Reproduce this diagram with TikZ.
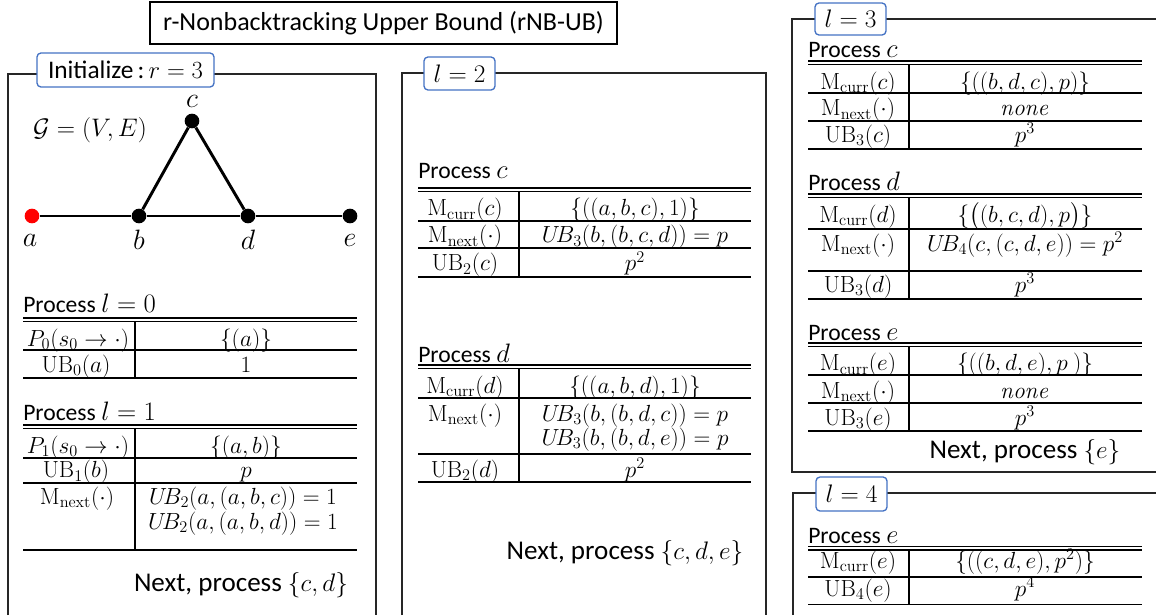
\documentclass[tikz,border=0pt]{standalone}
\usepackage{fix-cm}
\usepackage{amsmath}
\usepackage[no-math]{fontspec}
\setmainfont{Carlito}
\definecolor{labblue}{HTML}{4472C4}
\newcommand\dblrule[3]{\draw[rulex] (#1,#3) -- (#2,#3); \draw[rulex] (#1,#3+3.5) -- (#2,#3+3.5);}
\newcommand\hrulex[3]{\draw[rulex] (#1,#3) -- (#2,#3);}
\newcommand\hm[1]{{\fontsize{20}{22}\selectfont$#1$}}
\newcommand\nm[1]{{\fontsize{19}{22}\selectfont$#1$}}
\begin{document}
\begin{tikzpicture}[x=0.75pt,y=-0.75pt,
  panel/.style={draw=black!85, line width=0.8pt},
  lab/.style={draw=labblue, line width=1pt, rounded corners=3pt, fill=white, inner sep=0pt, font=\fontsize{19}{22}\selectfont},
  titlebox/.style={draw=black, line width=0.8pt, inner sep=0pt, font=\fontsize{19.5}{22}\selectfont},
  rulex/.style={draw=black, line width=0.8pt},
  head/.style={anchor=base west, inner sep=0pt, font=\fontsize{17.7}{20}\selectfont},
  cellL/.style={anchor=base, inner sep=0pt, text height=0.7em, text depth=0.2em, font=\fontsize{17.5}{20}\selectfont},
  cellR/.style={anchor=base, inner sep=0pt, text height=0.7em, text depth=0.2em, font=\fontsize{17.5}{20}\selectfont},
  note/.style={inner sep=0pt, font=\fontsize{20.3}{24}\selectfont},
  vtx/.style={circle, fill=black, inner sep=0pt, minimum size=11pt},
  edgex/.style={line width=2.2pt},
  vlab/.style={font=\fontsize{21}{24}\selectfont, inner sep=0pt},
  glab/.style={font=\fontsize{19}{22}\selectfont, inner sep=0pt}
]
\useasboundingbox (0,0) rectangle (1156,615);
\fill[white] (0,0) rectangle (1156,615);

% title
\node[titlebox, minimum width=350.25pt, minimum height=31.5pt] (title) at (383.5,23) {r-Nonbacktracking Upper Bound (rNB-UB)};

% ---------------- panel 1
\draw[panel] (8,615) -- (8,74) -- (376,74) -- (376,615);
\node[lab, minimum width=132.75pt, minimum height=25.5pt] (lab1) at (125.5,70) {Initialize\,:\,{\fontsize{18.5}{22}\selectfont$r = 3$}};

\node[vtx, fill=red] (a) at (32,216) {};
\node[vtx] (b) at (139,216) {};
\node[vtx] (c) at (192,121) {};
\node[vtx] (d) at (248,216) {};
\node[vtx] (e) at (350,216) {};
\draw[edgex] (a) -- (b);
\draw[edgex] (b) -- (d);
\draw[edgex] (d) -- (e);
\draw[edgex] (b) -- (c);
\draw[edgex] (c) -- (d);
\node[vlab] (la) at (30,240) {$a$};
\node[vlab] (lb) at (139,240) {$b$};
\node[vlab] (lc) at (192,101) {$c$};
\node[vlab] (ld) at (248,240) {$d$};
\node[vlab] (le) at (350,240) {$e$};
\node[glab] (G) at (90,130) {$\mathcal{G} = (V,E)$};

\node[head] (h0) at (23,312) {Process \hm{l = 0}};
\dblrule{23}{357}{318}
\node[cellL] (p0a) at (78,346) {$P_0(s_0 \rightarrow\cdot)$};
\node[cellR] (p0b) at (246,346) {$\{(a)\}$};
\hrulex{23}{357}{350}
\node[cellL] (p0c) at (76,372) {$\mathrm{UB}_0(a)$};
\node[cellR] (p0d) at (246,372) {$1$};
\hrulex{23}{357}{378}
\draw[rulex] (135,321.5) -- (135,378);

\node[head] (h1) at (23,420) {Process \hm{l = 1}};
\dblrule{23}{357}{425}
\node[cellL] (p1a) at (78,453) {$P_1(s_0 \rightarrow\cdot)$};
\node[cellR] (p1b) at (246,453) {$\{(a,b)\}$};
\hrulex{23}{357}{458}
\node[cellL] (p1c) at (76,477.5) {$\mathrm{UB}_1(b)$};
\node[cellR] (p1d) at (246,477.5) {$p$};
\hrulex{23}{357}{483}
\node[cellL] (p1e) at (77,504) {$\mathrm{M}_{\mathrm{next}}(\cdot)$};
\node[cellR] (p1f) at (243,504) {$U\!B_2(a,(a,b,c)) = 1$};
\node[cellR] (p1g) at (243,529) {$U\!B_2(a,(a,b,d)) = 1$};
\hrulex{23}{357}{550}
\draw[rulex] (135,428.5) -- (135,550);
\node[note] (n1) at (241,585) {Next, process \nm{\{c,d\}}};

% ---------------- panel 2
\draw[panel] (402,615) -- (402,73) -- (766,73) -- (766,615);
\node[lab, minimum width=53.25pt, minimum height=24.75pt] (lab2) at (459.5,73.5) {$l = 2$};

\node[head] (h2c) at (418,178) {Process \hm{c}};
\dblrule{418}{751}{188}
\node[cellL] (q1a) at (465,215.5) {$\mathrm{M}_{\mathrm{curr}}(c)$};
\node[cellR] (q1b) at (635,215.5) {$\{((a,b,c),1)\}$};
\hrulex{418}{751}{221}
\node[cellL] (q2a) at (465,242.5) {$\mathrm{M}_{\mathrm{next}}(\cdot)$};
\node[cellR] (q2b) at (635,242.5) {$U\!B_3(b,(b,c,d)) = p$};
\hrulex{418}{751}{248}
\node[cellL] (q3a) at (465,270.5) {$\mathrm{UB}_2(c)$};
\node[cellR] (q3b) at (635,270.5) {$p^2$};
\hrulex{418}{751}{277}
\draw[rulex] (519,191.5) -- (519,277);

\node[head] (h2d) at (418,362) {Process \hm{d}};
\dblrule{418}{751}{365}
\node[cellL] (q4a) at (465,393) {$\mathrm{M}_{\mathrm{curr}}(d)$};
\node[cellR] (q4b) at (635,393) {$\{((a,b,d),1)\}$};
\hrulex{418}{751}{398}
\node[cellL] (q5a) at (465,421) {$\mathrm{M}_{\mathrm{next}}(\cdot)$};
\node[cellR] (q5b) at (635,421) {$U\!B_3(b,(b,d,c)) = p$};
\node[cellR] (q5c) at (635,445) {$U\!B_3(b,(b,d,e)) = p$};
\hrulex{418}{751}{454}
\node[cellL] (q6a) at (465,477) {$\mathrm{UB}_2(d)$};
\node[cellR] (q6b) at (635,477) {$p^2$};
\hrulex{418}{751}{482}
\draw[rulex] (519,368.5) -- (519,482);
\node[note] (n2) at (625,553) {Next, process \nm{\{c,d,e\}}};

% ---------------- panel 3
\draw[panel] (1160,19) -- (792,19) -- (792,472) -- (1160,472);
\node[lab, minimum width=53.25pt, minimum height=24pt] (lab3) at (850.5,19) {$l = 3$};

\node[head] (h3c) at (808,57) {Process \hm{c}};
\dblrule{808}{1142}{61}
\node[cellL] (r1a) at (858,89) {$\mathrm{M}_{\mathrm{curr}}(c)$};
\node[cellR] (r1b) at (1025,89) {$\{((b,d,c),p)\}$};
\hrulex{808}{1142}{93}
\node[cellL] (r2a) at (858,115.5) {$\mathrm{M}_{\mathrm{next}}(\cdot)$};
\node[cellR] (r2b) at (1025,115.5) {$\mathit{none}$};
\hrulex{808}{1142}{121}
\node[cellL] (r3a) at (858,142) {$\mathrm{UB}_3(c)$};
\node[cellR] (r3b) at (1025,142) {$p^3$};
\hrulex{808}{1142}{149}
\draw[rulex] (909,64.5) -- (909,149);

\node[head] (h3d) at (808,190) {Process \hm{d}};
\dblrule{808}{1142}{194}
\node[cellL] (r4a) at (858,222) {$\mathrm{M}_{\mathrm{curr}}(d)$};
\node[cellR] (r4b) at (1025,222) {$\{\big((b,c,d),p\big)\}$};
\hrulex{808}{1142}{229}
\node[cellL] (r5a) at (858,251) {$\mathrm{M}_{\mathrm{next}}(\cdot)$};
\node[cellR] (r5b) at (1025,251) {$U\!B_4(c,(c,d,e)) = p^2$};
\hrulex{808}{1142}{271}
\node[cellL] (r6a) at (858,292) {$\mathrm{UB}_3(d)$};
\node[cellR] (r6b) at (1025,292) {$p^3$};
\hrulex{808}{1142}{299}
\draw[rulex] (909,197.5) -- (909,299);

\node[head] (h3e) at (808,340) {Process \hm{e}};
\dblrule{808}{1142}{343}
\node[cellL] (r7a) at (858,370.5) {$\mathrm{M}_{\mathrm{curr}}(e)$};
\node[cellR] (r7b) at (1025,370.5) {$\{((b,d,e),p\ )\}$};
\hrulex{808}{1142}{375}
\node[cellL] (r8a) at (858,398) {$\mathrm{M}_{\mathrm{next}}(\cdot)$};
\node[cellR] (r8b) at (1025,398) {$\mathit{none}$};
\hrulex{808}{1142}{403}
\node[cellL] (r9a) at (858,425) {$\mathrm{UB}_3(e)$};
\node[cellR] (r9b) at (1025,425) {$p^3$};
\hrulex{808}{1142}{431}
\draw[rulex] (909,346.5) -- (909,431);
\node[note] (n3) at (1025,452) {Next, process \nm{\{e\}}};

% ---------------- panel 4
\draw[panel] (793,615) -- (793,493) -- (1160,493);
\node[lab, minimum width=53.25pt, minimum height=25.5pt] (lab4) at (851.5,494) {$l = 4$};

\node[head] (h4e) at (808,543) {Process \hm{e}};
\dblrule{808}{1142}{546.5}
\node[cellL] (s1a) at (858,568) {$\mathrm{M}_{\mathrm{curr}}(e)$};
\node[cellR] (s1b) at (1025,568) {$\{((c,d,e),p^2)\}$};
\hrulex{808}{1142}{577}
\node[cellL] (s2a) at (858,596) {$\mathrm{UB}_4(e)$};
\node[cellR] (s2b) at (1025,596) {$p^4$};
\hrulex{808}{1142}{604.5}
\draw[rulex] (909,550) -- (909,604.5);
\end{tikzpicture}
\end{document}
